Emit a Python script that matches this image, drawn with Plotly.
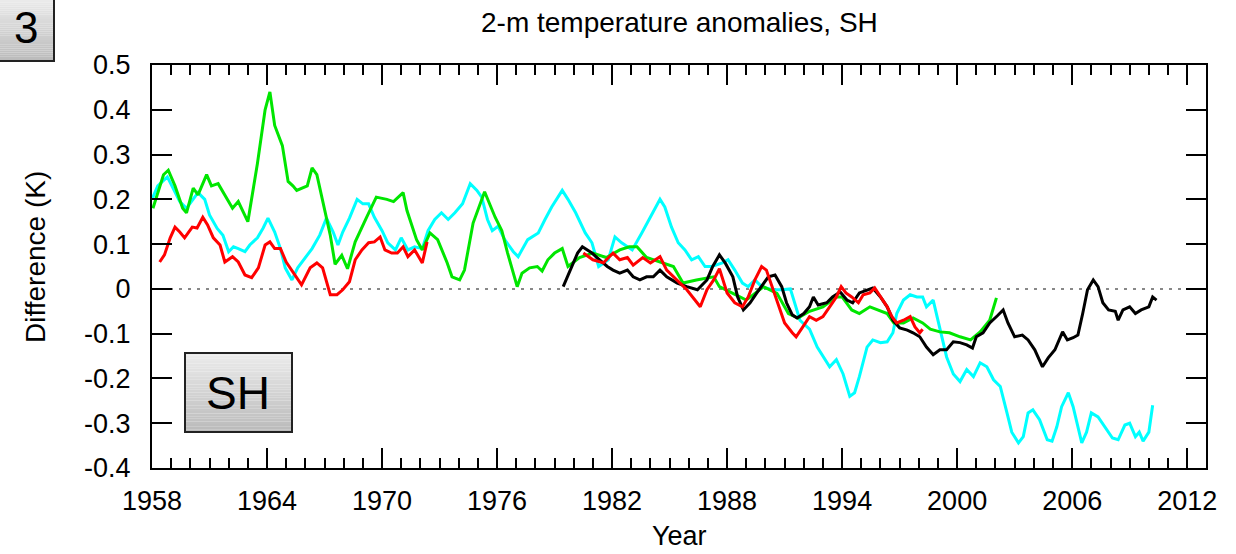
import plotly.graph_objects as go

# ---------------- data ----------------
green_years = [1958.05, 1958.6, 1958.85, 1959.2, 1959.6, 1959.8, 1960.15, 1960.4, 1960.85, 1961.1,
               1961.45, 1961.8, 1962.2, 1962.5, 1963.0, 1963.5, 1963.9, 1964.15, 1964.4, 1964.8,
               1965.1, 1965.35, 1965.55, 1966.1, 1966.35, 1966.6, 1966.9, 1967.3, 1967.55, 1967.9,
               1968.2, 1968.6, 1969.2, 1969.7, 1970.25, 1970.6, 1971.1, 1971.3, 1971.8, 1972.1,
               1972.5, 1972.9, 1973.4, 1973.65, 1974.05, 1974.3, 1974.75, 1975.35, 1975.9, 1976.25,
               1976.55, 1977.05, 1977.3, 1977.7, 1978.1, 1978.35, 1978.65, 1979.0, 1979.4, 1979.7,
               1980.3, 1981.0, 1981.7, 1982.4, 1982.9, 1983.3, 1983.8, 1984.5, 1985.2, 1985.7,
               1986.4, 1987.3, 1987.6, 1988.3, 1989.0, 1989.9, 1990.6, 1991.2, 1991.7, 1992.3,
               1993.0, 1993.7, 1994.0, 1994.5, 1994.9, 1995.45, 1995.9, 1996.35, 1996.7, 1997.2,
               1997.7, 1998.2, 1998.6, 1999.1, 1999.6, 2000.15, 2000.7, 2001.2, 2001.7, 2002.05]
green_vals = [0.18, 0.255, 0.265, 0.23, 0.18, 0.17, 0.225, 0.21, 0.255, 0.23,
              0.235, 0.21, 0.18, 0.195, 0.15, 0.28, 0.40, 0.44, 0.365, 0.32,
              0.24, 0.23, 0.22, 0.23, 0.27, 0.255, 0.20, 0.12, 0.055, 0.075,
              0.045, 0.105, 0.16, 0.205, 0.20, 0.195, 0.215, 0.175, 0.11, 0.087,
              0.125, 0.11, 0.058, 0.027, 0.02, 0.042, 0.147, 0.217, 0.16, 0.13,
              0.08, 0.005, 0.035, 0.047, 0.05, 0.04, 0.065, 0.08, 0.09, 0.05,
              0.07, 0.08, 0.07, 0.087, 0.094, 0.094, 0.07, 0.06, 0.05, 0.013,
              0.02, 0.027, 0.005, -0.01, -0.025, 0.005, -0.01, -0.055, -0.065, -0.05,
              -0.04, -0.018, -0.018, -0.047, -0.055, -0.04, -0.047, -0.055, -0.076, -0.076,
              -0.065, -0.076, -0.09, -0.096, -0.098, -0.107, -0.114, -0.096, -0.07, -0.02]

cyan_years = [1958.0, 1958.3, 1958.8, 1959.1, 1959.45, 1959.8, 1960.15, 1960.4, 1960.75, 1961.0,
              1961.4, 1961.7, 1962.0, 1962.25, 1962.5, 1962.85, 1963.1, 1963.5, 1963.8, 1964.05,
              1964.4, 1964.7, 1964.95, 1965.3, 1965.6, 1966.0, 1966.35, 1966.75, 1967.1, 1967.45,
              1967.7, 1967.95, 1968.3, 1968.7, 1969.0, 1969.3, 1969.6, 1970.0, 1970.3, 1970.7,
              1971.0, 1971.35, 1971.7, 1972.1, 1972.4, 1972.75, 1973.1, 1973.45, 1973.8, 1974.2,
              1974.6, 1974.95, 1975.2, 1975.5, 1975.75, 1976.05, 1976.4, 1976.85, 1977.1, 1977.6,
              1978.15, 1978.5, 1978.85, 1979.4, 1979.7, 1980.1, 1980.6, 1980.95, 1981.3, 1981.8,
              1982.15, 1982.5, 1983.05, 1983.55, 1984.1, 1984.5, 1984.75, 1985.1, 1985.45, 1985.8,
              1986.15, 1986.5, 1986.85, 1987.2, 1987.75, 1988.05, 1988.4, 1988.8, 1989.1, 1989.45,
              1989.8, 1990.35, 1990.85, 1991.3, 1991.8, 1992.3, 1992.7, 1993.0, 1993.35, 1993.7,
              1994.05, 1994.4, 1994.65, 1994.9, 1995.3, 1995.6, 1996.0, 1996.35, 1996.65, 1996.85,
              1997.2, 1997.55, 1997.9, 1998.2, 1998.4, 1998.75, 1999.1, 1999.45, 1999.8, 2000.15,
              2000.5, 2000.85, 2001.2, 2001.55, 2001.9, 2002.25, 2002.6, 2002.85, 2003.2, 2003.45,
              2003.7, 2003.95, 2004.3, 2004.7, 2004.95, 2005.2, 2005.45, 2005.8, 2006.05, 2006.3,
              2006.5, 2006.75, 2007.0, 2007.35, 2007.7, 2008.1, 2008.4, 2008.75, 2009.0, 2009.3,
              2009.5, 2009.7, 2010.0, 2010.2]
cyan_vals = [0.20, 0.23, 0.25, 0.225, 0.195, 0.18, 0.20, 0.215, 0.20, 0.165,
             0.135, 0.12, 0.083, 0.094, 0.09, 0.083, 0.098, 0.114, 0.136, 0.158,
             0.127, 0.09, 0.047, 0.02, 0.047, 0.07, 0.09, 0.12, 0.158, 0.127,
             0.098, 0.127, 0.158, 0.20, 0.19, 0.19, 0.16, 0.13, 0.103, 0.087,
             0.114, 0.087, 0.094, 0.09, 0.13, 0.155, 0.17, 0.155, 0.17, 0.19,
             0.235, 0.22, 0.205, 0.155, 0.13, 0.14, 0.11, 0.083, 0.072, 0.11,
             0.125, 0.155, 0.183, 0.22, 0.20, 0.17, 0.125, 0.103, 0.05, 0.065,
             0.116, 0.103, 0.087, 0.125, 0.17, 0.20, 0.183, 0.138, 0.103, 0.087,
             0.065, 0.072, 0.05, 0.05, 0.058, 0.065, 0.042, 0.013, 0.005, 0.02,
             0.005, -0.002, -0.002, 0.0, -0.07, -0.09, -0.13, -0.15, -0.174, -0.158,
             -0.19, -0.24, -0.232, -0.196, -0.13, -0.114, -0.12, -0.118, -0.098, -0.055,
             -0.025, -0.013, -0.018, -0.018, -0.04, -0.025, -0.09, -0.152, -0.19, -0.207,
             -0.18, -0.196, -0.165, -0.174, -0.203, -0.218, -0.277, -0.32, -0.344, -0.33,
             -0.277, -0.27, -0.292, -0.337, -0.34, -0.308, -0.263, -0.232, -0.263, -0.308,
             -0.344, -0.32, -0.277, -0.286, -0.308, -0.333, -0.337, -0.304, -0.30, -0.33,
             -0.32, -0.34, -0.32, -0.26]

red_years = [1958.4, 1958.65, 1958.95, 1959.2, 1959.45, 1959.7, 1960.1, 1960.35, 1960.65, 1960.9,
             1961.2, 1961.55, 1961.8, 1962.2, 1962.5, 1962.85, 1963.2, 1963.55, 1963.9, 1964.15,
             1964.4, 1964.7, 1965.0, 1965.35, 1965.8, 1966.25, 1966.6, 1966.9, 1967.3, 1967.65,
             1967.95, 1968.3, 1968.6, 1968.95, 1969.3, 1969.6, 1969.9, 1970.15, 1970.5, 1970.8,
             1971.1, 1971.35, 1971.7, 1972.1, 1972.35, None,
             1980.5, 1981.0, 1981.55, 1982.05, 1982.4, 1982.8, 1983.1, 1983.6, 1984.0, 1984.5,
             1984.85, 1985.4, 1985.9, 1986.6, 1986.95, 1987.3, 1987.6, 1988.0, 1988.4, 1988.8,
             1989.1, 1989.45, 1989.8, 1990.05, 1990.35, 1990.65, 1991.0, 1991.4, 1991.6, 1991.95,
             1992.3, 1992.65, 1993.0, 1993.35, 1993.7, 1993.95, 1994.2, 1994.5, 1994.85, 1995.1,
             1995.45, 1995.7, 1996.0, 1996.35, 1996.6, 1996.85, 1997.2, 1997.55, 1997.8, 1998.05,
             1998.2]
red_vals = [0.06, 0.076, 0.114, 0.138, 0.127, 0.114, 0.138, 0.136, 0.16, 0.143,
            0.114, 0.098, 0.06, 0.072, 0.06, 0.031, 0.025, 0.047, 0.098, 0.105,
            0.09, 0.09, 0.06, 0.038, 0.009, 0.047, 0.058, 0.047, -0.013, -0.013,
            -0.002, 0.016, 0.065, 0.087, 0.103, 0.105, 0.116, 0.087, 0.08, 0.08,
            0.094, 0.072, 0.087, 0.058, 0.105, None,
            0.08, 0.065, 0.058, 0.08, 0.065, 0.07, 0.053, 0.07, 0.058, 0.072,
            0.042, 0.02, -0.002, -0.04, -0.002, 0.02, 0.045, -0.009, -0.031, -0.04,
            -0.018, 0.02, 0.05, 0.042, 0.005, -0.031, -0.076, -0.098, -0.107, -0.085,
            -0.062, -0.07, -0.062, -0.04, -0.018, 0.005, -0.009, -0.018, -0.031, -0.013,
            -0.009, 0.002, -0.018, -0.04, -0.062, -0.076, -0.07, -0.062, -0.085, -0.098,
            -0.09]

black_years = [1979.45, 1979.8, 1980.2, 1980.45, 1980.7, 1980.95, 1981.35, 1981.75, 1982.05, 1982.4,
               1982.8, 1983.1, 1983.45, 1983.8, 1984.15, 1984.5, 1984.85, 1985.4, 1985.9, 1986.45,
               1986.95, 1987.25, 1987.6, 1987.9, 1988.3, 1988.55, 1988.85, 1989.2, 1989.55, 1989.9,
               1990.15, 1990.5, 1990.85, 1991.1, 1991.4, 1991.65, 1992.0, 1992.3, 1992.5, 1992.75,
               1993.2, 1993.5, 1993.9, 1994.25, 1994.55, 1994.9, 1995.3, 1995.6, 1996.0, 1996.35,
               1996.65, 1997.0, 1997.4, 1997.7, 1998.05, 1998.4, 1998.75, 1999.1, 1999.45, 1999.8,
               2000.15, 2000.5, 2000.8, 2001.0, 2001.35, 2001.7, 2002.1, 2002.4, 2002.65, 2003.0,
               2003.4, 2003.7, 2004.05, 2004.45, 2004.75, 2005.1, 2005.5, 2005.75, 2006.05, 2006.3,
               2006.55, 2006.8, 2007.1, 2007.35, 2007.6, 2007.9, 2008.25, 2008.4, 2008.65, 2009.0,
               2009.3, 2009.6, 2010.0, 2010.2, 2010.4]
black_vals = [0.005, 0.042, 0.08, 0.094, 0.087, 0.08, 0.065, 0.05, 0.042, 0.035,
              0.042, 0.027, 0.02, 0.027, 0.027, 0.042, 0.027, 0.013, 0.005, -0.002,
              0.02, 0.05, 0.076, 0.058, 0.027, -0.018, -0.047, -0.031, -0.009, 0.013,
              0.027, 0.031, 0.005, -0.031, -0.058, -0.065, -0.055, -0.04, -0.018, -0.036,
              -0.031, -0.018, -0.007, -0.025, -0.031, -0.009, -0.002, 0.002, -0.018, -0.04,
              -0.07, -0.087, -0.092, -0.098, -0.107, -0.13, -0.147, -0.136, -0.136, -0.118,
              -0.12, -0.125, -0.132, -0.107, -0.098, -0.076, -0.06, -0.047, -0.076, -0.107,
              -0.103, -0.114, -0.136, -0.174, -0.154, -0.136, -0.096, -0.114, -0.109, -0.103,
              -0.055, -0.002, 0.02, 0.005, -0.031, -0.047, -0.05, -0.07, -0.047, -0.04,
              -0.055, -0.047, -0.04, -0.018, -0.025]

x_tick_vals = [1958, 1964, 1970, 1976, 1982, 1988, 1994, 2000, 2006, 2012]
x_tick_text = ["1958", "1964", "1970", "1976", "1982", "1988", "1994", "2000", "2006", "2012"]
y_tick_vals = [-0.4, -0.3, -0.2, -0.1, 0.0, 0.1, 0.2, 0.3, 0.4, 0.5]
y_tick_text = ["-0.4", "-0.3", "-0.2", "-0.1", "0", "0.1", "0.2", "0.3", "0.4", "0.5"]

title_text = "2-m temperature anomalies, SH"
x_title = "Year"
y_title = "Difference (K)"
panel_number = "3"
region_label = "SH"

# ---------------- layout geometry ----------------
W, H = 1236, 554
ML, MR, MT, MB = 152, 30, 65, 86
PW, PH = W - ML - MR, H - MT - MB
FONT = "Liberation Sans, Arial, Helvetica, sans-serif"


def px_x(px):
    return (px - ML) / PW


def px_y(py):
    return (H - MB - py) / PH


fig = go.Figure()

series = [
    (cyan_years, cyan_vals, "#00ffff"),
    (green_years, green_vals, "#00e600"),
    (black_years, black_vals, "#000000"),
    (red_years, red_vals, "#ff0000"),
]
for xs, ys, col in series:
    fig.add_trace(go.Scatter(x=xs, y=ys, mode="lines", line=dict(color=col, width=3),
                             connectgaps=False, showlegend=False, hoverinfo="skip"))

shapes = []
# zero reference line (dotted)
shapes.append(dict(type="line", xref="paper", yref="y", x0=0, x1=1, y0=0, y1=0,
                   line=dict(color="#888888", width=2, dash="3px,6px"), layer="below"))


def gradient_box(x0, y0, x1, y1, top=236, bottom=186, n=30):
    out = []
    for i in range(n):
        ya = y0 + (y1 - y0) * i / n
        yb = y0 + (y1 - y0) * (i + 1) / n
        g = int(round(top + (bottom - top) * (i + 0.5) / n))
        out.append(dict(type="rect", xref="paper", yref="paper",
                        x0=px_x(x0), x1=px_x(x1), y0=px_y(ya), y1=px_y(yb),
                        fillcolor=f"rgb({g},{g},{g})", line=dict(width=0), layer="above"))
    out.append(dict(type="rect", xref="paper", yref="paper",
                    x0=px_x(x0), x1=px_x(x1), y0=px_y(y0), y1=px_y(y1),
                    fillcolor="rgba(0,0,0,0)", line=dict(color="#222222", width=2), layer="above"))
    return out


shapes += gradient_box(-2, -2, 54, 61)
shapes += gradient_box(185, 353, 292, 432)

annotations = [
    dict(text=panel_number, xref="paper", yref="paper", x=px_x(26), y=px_y(27),
         showarrow=False, font=dict(family=FONT, size=44, color="black"),
         xanchor="center", yanchor="middle"),
    dict(text=region_label, xref="paper", yref="paper", x=px_x(238), y=px_y(393),
         showarrow=False, font=dict(family=FONT, size=46, color="black"),
         xanchor="center", yanchor="middle"),
    dict(text=title_text, xref="paper", yref="paper", x=0.5, y=px_y(22),
         showarrow=False, font=dict(family=FONT, size=28, color="black"),
         xanchor="center", yanchor="middle"),
    dict(text=x_title, xref="paper", yref="paper", x=0.5, y=px_y(536),
         showarrow=False, font=dict(family=FONT, size=27, color="black"),
         xanchor="center", yanchor="middle"),
    dict(text=y_title, xref="paper", yref="paper", x=px_x(35), y=px_y(257),
         showarrow=False, textangle=-90, font=dict(family=FONT, size=28, color="black"),
         xanchor="center", yanchor="middle"),
]

fig.update_layout(
    width=W, height=H,
    margin=dict(l=ML, r=MR, t=MT, b=MB, pad=0),
    paper_bgcolor="white", plot_bgcolor="white",
    font=dict(family=FONT, size=26, color="black"),
    shapes=shapes, annotations=annotations,
    showlegend=False,
)
fig.update_xaxes(
    range=[1958, 1958 + PW / 19.17], showgrid=False, zeroline=False,
    showline=True, linecolor="black", linewidth=2, mirror="ticks",
    ticks="inside", ticklen=20, tickwidth=2, tickcolor="black",
    tickvals=x_tick_vals, ticktext=x_tick_text, ticklabelstandoff=8,
    tickfont=dict(family=FONT, size=27, color="black"),
    minor=dict(dtick=1, tick0=1958, ticks="inside", ticklen=10, tickwidth=2, tickcolor="black",
               showgrid=False),
)
fig.update_yaxes(
    range=[-0.4, 0.5], showgrid=False, zeroline=False,
    showline=True, linecolor="black", linewidth=2, mirror="ticks",
    ticks="inside", ticklen=20, tickwidth=2, tickcolor="black",
    tickvals=y_tick_vals, ticktext=y_tick_text, ticklabelstandoff=14,
    tickfont=dict(family=FONT, size=27, color="black"),
)

fig.write_html("out.html")
